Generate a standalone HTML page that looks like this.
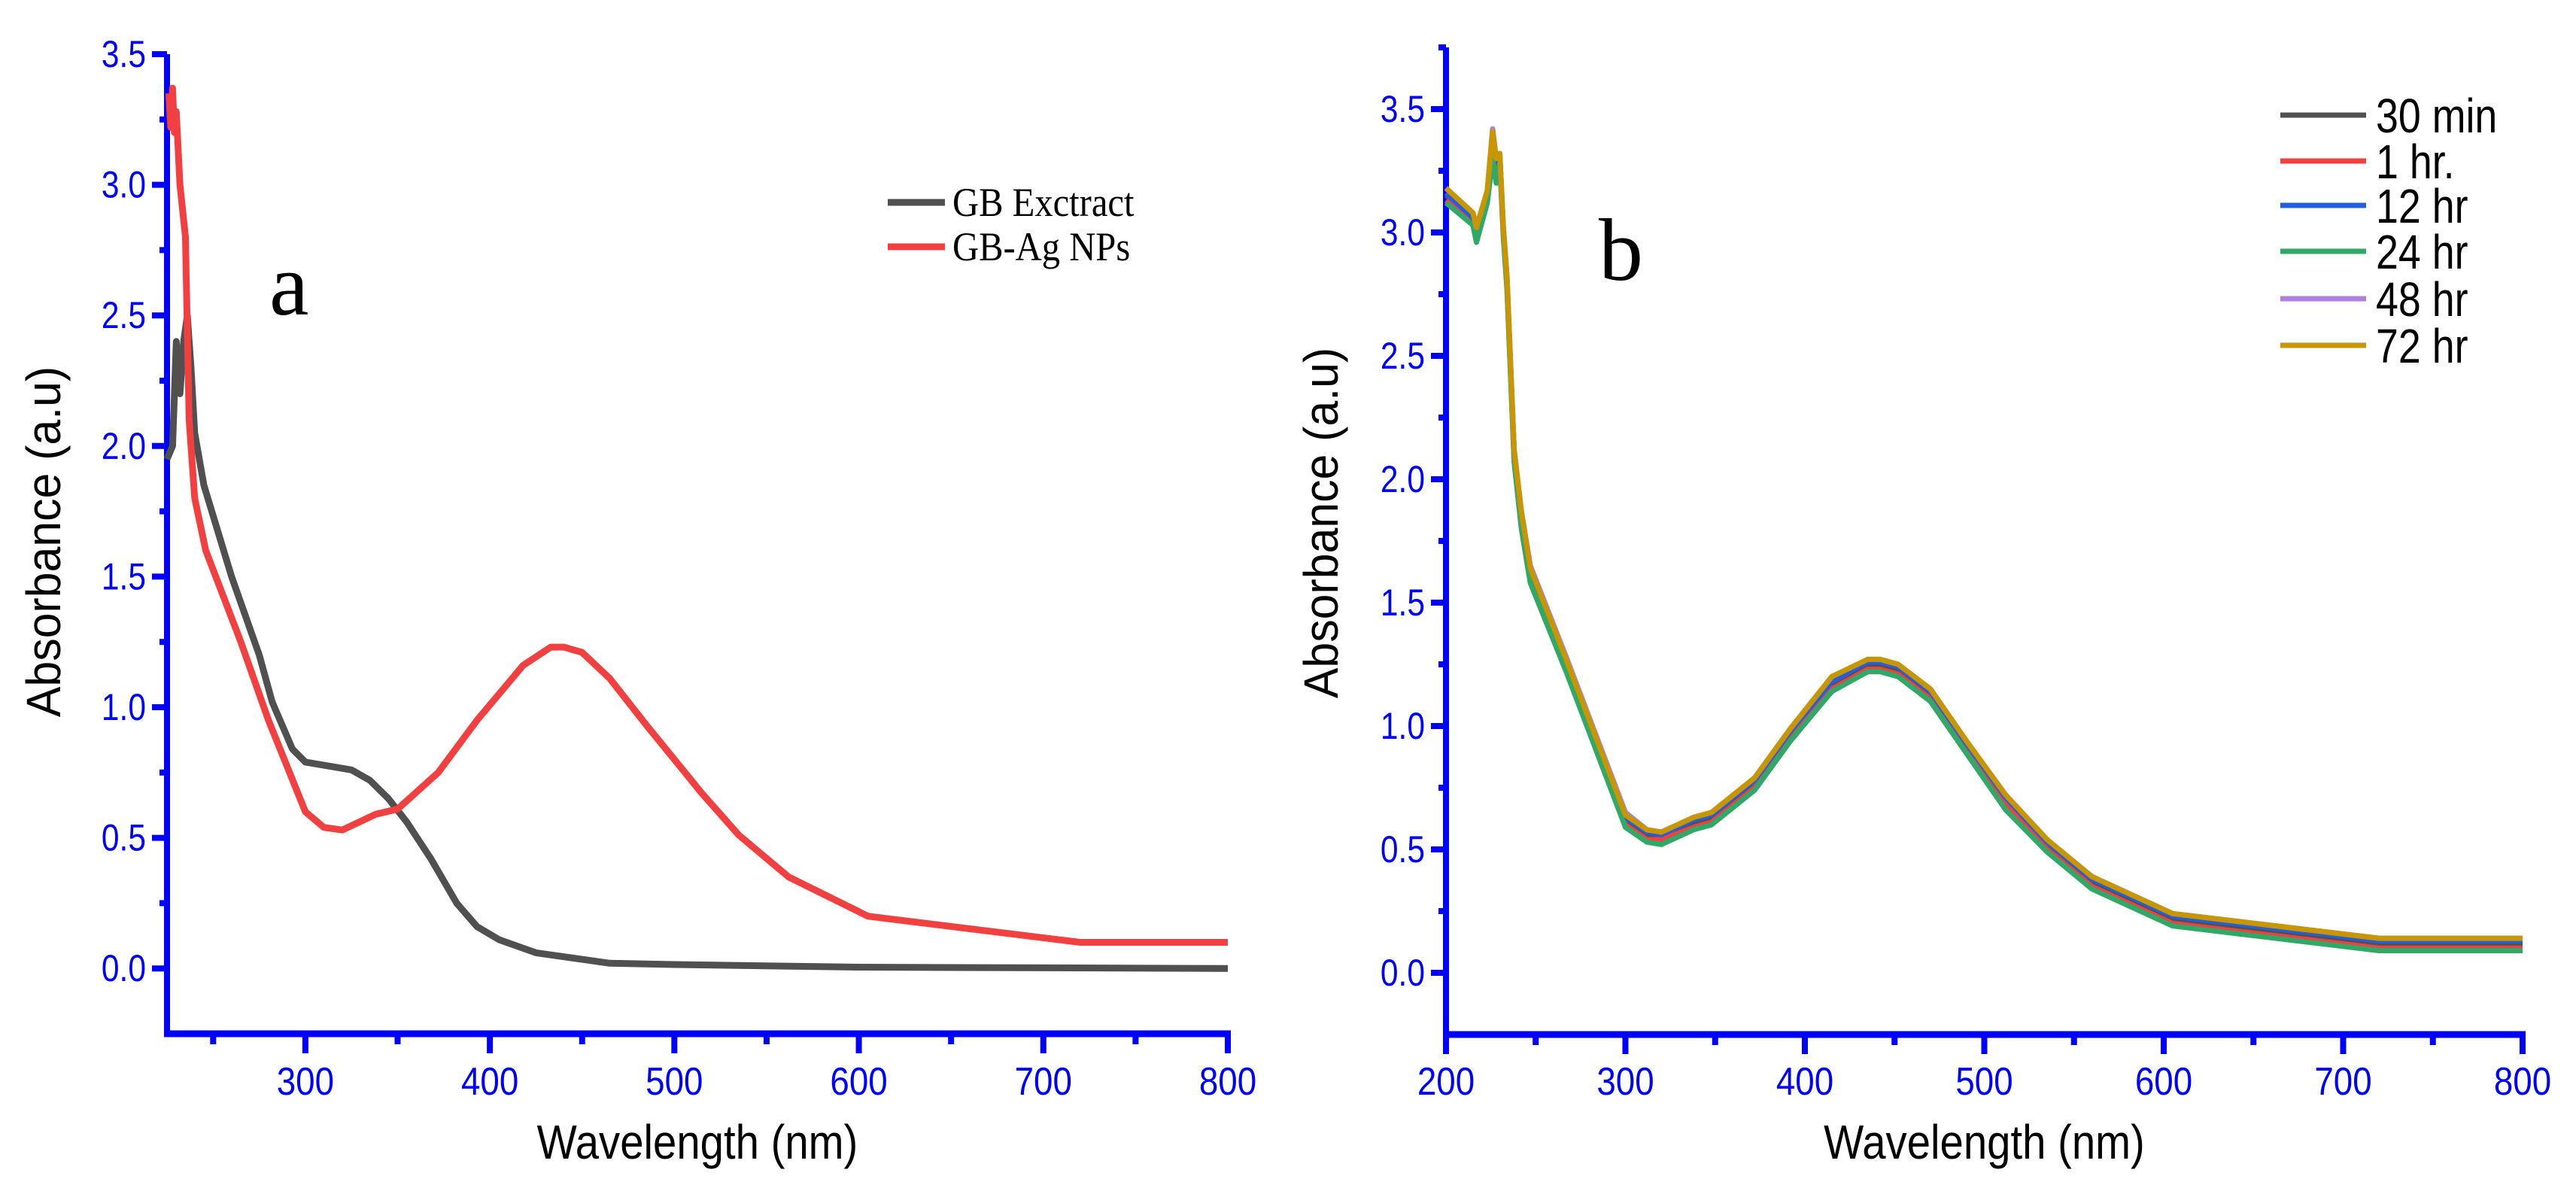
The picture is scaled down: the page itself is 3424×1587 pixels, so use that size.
<!DOCTYPE html>
<html><head><meta charset="utf-8"><style>
html,body{margin:0;padding:0;background:#fff;}
svg{display:block;}
</style></head><body>
<svg id="fig" width="3424" height="1587" viewBox="0 0 3424 1587" xmlns="http://www.w3.org/2000/svg">
<g id="pa"></g>
<g id="pb"></g>
</svg>
<script>
// Panel a data
const aWave = [225,228,230,232,234,236,238,240,245,260,275,282,293,300,325,335,345,355,368,382,393,405,425,465,500,600,800];
const aExtract = [1.95,2.0,2.4,2.2,2.4,2.5,2.3,2.05,1.85,1.5,1.2,1.02,0.84,0.79,0.76,0.72,0.65,0.56,0.42,0.25,0.16,0.11,0.06,0.02,0.015,0.005,0.0];
const aNpWave = [226,227,228,229,230,232,235,237,240,246,265,280,300,310,320,338,350,372,393,418,433,440,450,465,485,515,535,562,605,720,800];
const aNp = [3.35,3.22,3.37,3.2,3.28,3.0,2.8,2.1,1.8,1.6,1.25,0.95,0.6,0.54,0.53,0.59,0.61,0.75,0.95,1.16,1.23,1.23,1.21,1.11,0.93,0.67,0.51,0.35,0.2,0.1,0.1];
const yTicks = [0.0,0.5,1.0,1.5,2.0,2.5,3.0,3.5];
const xTicksA = [300,400,500,600,700,800];
const xTicksB = [200,300,400,500,600,700,800];
// Panel b data
const bWave = [200,215,217,223,226,228,230,232,234,238,242,247,267,300,312,320,338,348,372,392,415,435,442,452,470,490,512,535,560,605,720,800];
const b30min = [3.15,3.05,3.0,3.15,3.4,3.27,3.3,3.0,2.8,2.1,1.85,1.62,1.25,0.62,0.56,0.55,0.61,0.63,0.77,0.97,1.17,1.25,1.25,1.23,1.13,0.92,0.7,0.52,0.37,0.22,0.12,0.12];
const b1hr = [3.13,3.04,2.98,3.13,3.38,3.24,3.29,2.99,2.78,2.08,1.83,1.6,1.23,0.6,0.54,0.54,0.59,0.61,0.75,0.95,1.15,1.23,1.23,1.21,1.11,0.9,0.68,0.5,0.35,0.2,0.1,0.1];
const b12hr = [3.16,3.06,3.0,3.16,3.4,3.28,3.31,3.01,2.81,2.11,1.86,1.63,1.26,0.63,0.57,0.56,0.62,0.64,0.78,0.98,1.18,1.26,1.26,1.24,1.14,0.93,0.71,0.53,0.38,0.23,0.13,0.13];
const b24hr = [3.12,3.03,2.96,3.12,3.3,3.2,3.28,2.98,2.77,2.07,1.8,1.58,1.22,0.59,0.53,0.52,0.58,0.6,0.74,0.94,1.14,1.22,1.22,1.2,1.1,0.89,0.66,0.49,0.34,0.19,0.09,0.09];
const b48hr = [3.18,3.08,3.02,3.17,3.42,3.3,3.32,3.02,2.82,2.12,1.87,1.65,1.28,0.65,0.58,0.57,0.63,0.65,0.79,0.99,1.2,1.27,1.27,1.25,1.15,0.94,0.72,0.54,0.39,0.24,0.14,0.14];
const b72hr = [3.18,3.08,3.02,3.17,3.41,3.3,3.32,3.02,2.82,2.12,1.87,1.64,1.27,0.64,0.58,0.57,0.63,0.65,0.79,0.99,1.2,1.27,1.27,1.25,1.15,0.94,0.72,0.54,0.39,0.24,0.14,0.14];
const bNames = ["30 min","1 hr.","12 hr","24 hr","48 hr","72 hr"];
const bSeries = [b30min,b1hr,b12hr,b24hr,b48hr,b72hr];
const bColors = ["#505050","#F24040","#2060E0","#30A868","#B080E0","#C89600"];

const NS="http://www.w3.org/2000/svg";
function mk(parent,tag,attrs,text){const e=document.createElementNS(NS,tag);for(const k in attrs)e.setAttribute(k,attrs[k]);if(text!==undefined)e.textContent=text;parent.appendChild(e);return e;}

function panel(g,cfg){
  const sx=v=>cfg.x0+(v-cfg.xmin)/(cfg.xmax-cfg.xmin)*(cfg.x1-cfg.x0);
  const sy=v=>cfg.y0+(v-cfg.ymin)/(cfg.ymax-cfg.ymin)*(cfg.y1-cfg.y0);
  const B="#0000FF";
  let e=mk(g,'line',{x1:cfg.x0,y1:sy(cfg.ymax),x2:cfg.x0,y2:sy(cfg.ymin)+4,stroke:B,'stroke-width':8});
  
  e=mk(g,'line',{x1:cfg.x0-4,y1:sy(cfg.ymin),x2:cfg.x1+4,y2:sy(cfg.ymin),stroke:B,'stroke-width':9});
  
  for(let v=0;v<=cfg.ymax+1e-9;v+=0.25){
    const major=Math.abs(v*2-Math.round(v*2))<1e-6;
    const t=mk(g,'line',{x1:cfg.x0,x2:cfg.x0-(major?20:10),y1:sy(v),y2:sy(v),stroke:B,'stroke-width':8});
    
  }
  yTicks.forEach(v=>{
    const t=mk(g,'text',{x:cfg.x0-28,y:sy(v)+17,'text-anchor':'end','font-family':'Liberation Sans, sans-serif','font-size':50,fill:B,transform:`translate(${cfg.x0-28},0) scale(0.85,1) translate(${-(cfg.x0-28)},0)`},v.toFixed(1));
    
  });
  for(let v=Math.ceil(cfg.xmin/50)*50;v<=cfg.xmax;v+=50){
    const major=v%100===0;
    const t=mk(g,'line',{x1:sx(v),x2:sx(v),y1:sy(cfg.ymin),y2:sy(cfg.ymin)+(major?26:14),stroke:B,'stroke-width':8});
    
  }
  cfg.xt.forEach(v=>{
    const t=mk(g,'text',{x:sx(v),y:1455,'text-anchor':'middle','font-family':'Liberation Sans, sans-serif','font-size':52,fill:B,transform:`translate(${sx(v)},0) scale(0.88,1) translate(${-sx(v)},0)`},String(v));
    
  });
  let t=mk(g,'text',{x:(cfg.x0+cfg.x1)/2,y:1540,'text-anchor':'middle','font-family':'Liberation Sans, sans-serif','font-size':64,fill:'#000',transform:`translate(${(cfg.x0+cfg.x1)/2},0) scale(0.88,1) translate(${-(cfg.x0+cfg.x1)/2},0)`},'Wavelength (nm)');
  
  t=mk(g,'text',{x:0,y:0,'text-anchor':'middle','font-family':'Liberation Sans, sans-serif','font-size':64,fill:'#000',transform:`translate(${cfg.ytx},${cfg.yty}) rotate(-90) scale(0.95,1)`},'Absorbance (a.u)');
  
  return {sx,sy};
}
function series(g,sc,xs,ys,color,w,name){
  const d=xs.map((x,i)=>(i?'L':'M')+sc.sx(x).toFixed(1)+','+sc.sy(ys[i]).toFixed(1)).join(' ');
  const p=mk(g,'path',{d:d,fill:'none',stroke:color,'stroke-width':w,'stroke-linejoin':'round','stroke-linecap':'butt'});
  
}

const ga=document.getElementById('pa');
const sa=panel(ga,{x0:222,x1:1632,xmin:225,xmax:800,y0:1374,y1:72,ymin:-0.25,ymax:3.5,xt:xTicksA,ytx:80,yty:720});
series(ga,sa,aWave,aExtract,'#505050',9,'line-gb-extract');
series(ga,sa,aNpWave,aNp,'#F24040',9,'line-gb-ag-nps');
let la=mk(ga,'line',{x1:1180,x2:1256,y1:269,y2:269,stroke:'#505050','stroke-width':9});

la=mk(ga,'text',{x:1266,y:287,'font-family':'Liberation Serif, serif','font-size':54,fill:'#000',transform:'translate(1266,0) scale(0.9,1) translate(-1266,0)'},'GB Exctract');

la=mk(ga,'line',{x1:1180,x2:1256,y1:328,y2:328,stroke:'#F24040','stroke-width':9});

la=mk(ga,'text',{x:1266,y:346,'font-family':'Liberation Serif, serif','font-size':54,fill:'#000',transform:'translate(1266,0) scale(0.9,1) translate(-1266,0)'},'GB-Ag NPs');

la=mk(ga,'text',{x:358,y:418,'font-family':'Liberation Serif, serif','font-size':118,fill:'#000'},'a');


const gb=document.getElementById('pb');
const sb=panel(gb,{x0:1922,x1:3353,xmin:200,xmax:800,y0:1375,y1:63,ymin:-0.25,ymax:3.75,xt:xTicksB,ytx:1778,yty:695});
bSeries.forEach((ys,i)=>series(gb,sb,bWave,ys,bColors[i],7,'line-'+bNames[i].replace(/[^a-z0-9]+/gi,'-').toLowerCase()));
const lys=[153,214,273,334,397,459];
bNames.forEach((n,i)=>{
  let e=mk(gb,'line',{x1:3031,x2:3145,y1:lys[i],y2:lys[i],stroke:bColors[i],'stroke-width':7});
  
  e=mk(gb,'text',{x:3158,y:lys[i]+23,'font-family':'Liberation Sans, sans-serif','font-size':64,fill:'#000',transform:`translate(3158,0) scale(0.84,1) translate(-3158,0)`},n);
  
});
let pl=mk(gb,'text',{x:2125,y:372,'font-family':'Liberation Serif, serif','font-size':118,fill:'#000'},'b');

</script>
</body></html>
